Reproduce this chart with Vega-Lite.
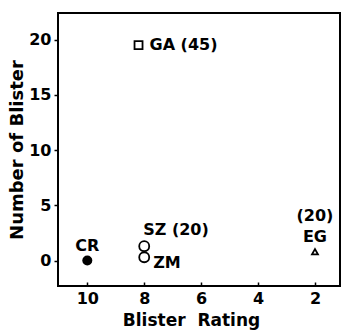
{
  "$schema": "https://vega.github.io/schema/vega-lite/v6.json",
  "width": 282,
  "height": 273,
  "autosize": "none",
  "padding": {"left": 58, "top": 13, "right": 2, "bottom": 44},
  "background": "white",
  "config": {
    "view": {"stroke": "black", "strokeWidth": 2},
    "font": "DejaVu Sans",
    "axis": {"grid": false, "domain": false, "tickColor": "black", "labelColor": "black", "titleColor": "black", "labelFont": "DejaVu Sans", "titleFont": "DejaVu Sans", "labelFontWeight": "bold", "titleFontWeight": "bold", "labelFontSize": 16, "titleFontSize": 18, "tickWidth": 1.5}
  },
  "data": {
    "values": [
      {"name": "CR", "rating": 10, "count": 0, "shape": "circle", "filled": "yes"},
      {"name": "SZ", "rating": 8.0, "count": 1.3, "shape": "circle", "filled": "no"},
      {"name": "ZM", "rating": 8.0, "count": 0.3, "shape": "circle", "filled": "no"},
      {"name": "GA", "rating": 8.2, "count": 19.5, "shape": "square", "filled": "no"},
      {"name": "EG", "rating": 2, "count": 0.8, "shape": "triangle-up", "filled": "no"}
    ]
  },
  "encoding": {
    "x": {"field": "rating", "type": "quantitative",
      "scale": {"domain": [1.12, 11.03], "reverse": true, "nice": false, "zero": false},
      "axis": {"values": [2, 4, 6, 8, 10], "tickSize": -4, "labelPadding": 8, "title": "Blister\u00a0\u00a0Rating", "titleFontSize": 17, "titleBaseline": "middle", "titleY": 34, "titleX": 133}},
    "y": {"field": "count", "type": "quantitative",
      "scale": {"domain": [-2.3, 22.4], "nice": false, "zero": false},
      "axis": {"values": [0, 5, 10, 15, 20], "tickSize": 4, "labelPadding": 3, "title": "Number of Blister", "titlePadding": 2}}
  },
  "layer": [
    {
      "mark": {"type": "point", "color": "black", "strokeWidth": 1.8, "filled": false, "shape": "circle", "size": 100, "opacity": 1},
      "transform": [{"filter": "datum.filled == 'no' && datum.shape == 'circle'"}]
    },
    {
      "mark": {"type": "point", "color": "black", "strokeWidth": 1.8, "filled": false, "shape": "square", "size": 64, "opacity": 1},
      "transform": [{"filter": "datum.shape == 'square'"}]
    },
    {
      "mark": {"type": "point", "color": "black", "strokeWidth": 1.8, "filled": false, "shape": "triangle-up", "size": 35, "opacity": 1},
      "transform": [{"filter": "datum.shape == 'triangle-up'"}]
    },
    {
      "mark": {"type": "point", "color": "black", "filled": true, "shape": "circle", "size": 100, "opacity": 1},
      "transform": [{"filter": "datum.filled == 'yes'"}]
    },
    {
      "mark": {"type": "text", "font": "DejaVu Sans", "fontWeight": "bold", "fontSize": 16, "align": "left", "baseline": "middle", "dx": 11, "dy": 0},
      "encoding": {"text": {"value": "GA (45)"}},
      "transform": [{"filter": "datum.name == 'GA'"}]
    },
    {
      "mark": {"type": "text", "font": "DejaVu Sans", "fontWeight": "bold", "fontSize": 16, "align": "center", "baseline": "middle", "dy": -15},
      "encoding": {"text": {"field": "name"}},
      "transform": [{"filter": "datum.name == 'CR' || datum.name == 'EG'"}]
    },
    {
      "mark": {"type": "text", "font": "DejaVu Sans", "fontWeight": "bold", "fontSize": 16, "align": "center", "baseline": "middle", "dy": -36},
      "encoding": {"text": {"value": "(20)"}},
      "transform": [{"filter": "datum.name == 'EG'"}]
    },
    {
      "mark": {"type": "text", "font": "DejaVu Sans", "fontWeight": "bold", "fontSize": 16, "align": "left", "baseline": "middle", "dx": -1, "dy": -16},
      "encoding": {"text": {"value": "SZ (20)"}},
      "transform": [{"filter": "datum.name == 'SZ'"}]
    },
    {
      "mark": {"type": "text", "font": "DejaVu Sans", "fontWeight": "bold", "fontSize": 16, "align": "left", "baseline": "middle", "dx": 9, "dy": 6},
      "encoding": {"text": {"field": "name"}},
      "transform": [{"filter": "datum.name == 'ZM'"}]
    }
  ]
}
